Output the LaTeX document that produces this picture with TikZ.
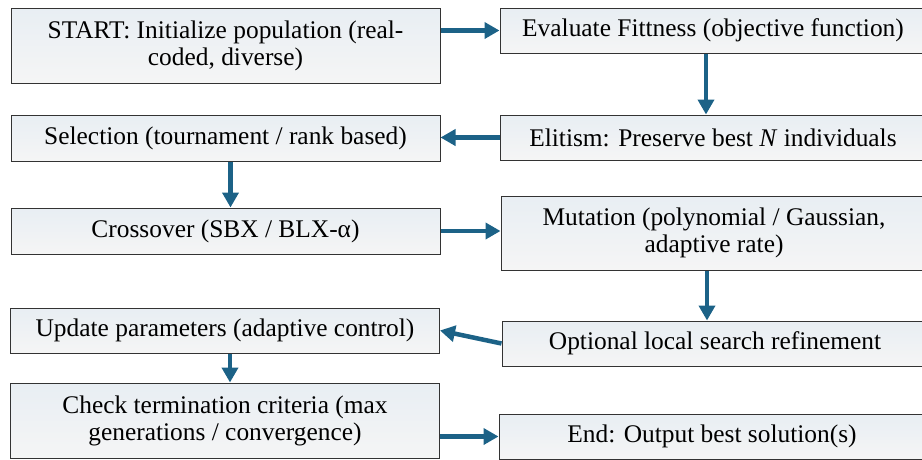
\documentclass[tikz,border=0pt]{standalone}
\usepackage{fontspec}
\setmainfont{Liberation Serif}
\usetikzlibrary{arrows.meta,shadows}
\definecolor{flowblue}{RGB}{28,98,135}
\definecolor{boxtop}{RGB}{232,238,243}
\definecolor{boxmid}{RGB}{211,211,212}
\definecolor{boxbot}{RGB}{245,245,245}
\tikzset{
    stage/.style={draw=black!80, line width=1pt, top color=boxtop, middle color=boxmid, bottom color=boxbot,
        drop shadow={shadow xshift=0.8pt, shadow yshift=-0.8pt, fill=black!60, opacity=1},
        align=center, inner sep=2pt, font=\fontsize{25.4}{27}\selectfont},
    flow/.style={draw=flowblue, line width=4.5pt, -{Triangle[length=15pt,width=16pt]}}
}
\begin{document}
\begin{tikzpicture}[x=1pt,y=-1pt]
    \useasboundingbox (0,0) rectangle (922,459);
    % left column
    \node[stage, minimum width=429pt, minimum height=75pt] (init) at (225.5,45.5) {START: Initialize population (real-\\coded, diverse)};
    \node[stage, minimum width=429pt, minimum height=46pt] (select) at (225.5,138) {Selection (tournament / rank based)};
    \node[stage, minimum width=429pt, minimum height=46pt] (cross) at (225.5,231) {Crossover (SBX / BLX-α)};
    \node[stage, minimum width=429pt, minimum height=45pt] (update) at (225,330.5) {Update parameters (adaptive control)};
    \node[stage, minimum width=429pt, minimum height=75pt] (check) at (225,420.5) {Check termination criteria (max\\generations / convergence)};
    % right column
    \node[stage, minimum width=426pt, minimum height=45pt] (evalfit) at (713,30.5) {Evaluate Fittness (objective function)};
    \node[stage, minimum width=426pt, minimum height=45pt] (elit) at (713,137.5) {Elitism: Preserve best \textit{N} individuals};
    \node[stage, minimum width=426pt, minimum height=74pt] (mutate) at (714,233) {Mutation (polynomial / Gaussian,\\adaptive rate)};
    \node[stage, minimum width=426pt, minimum height=45pt] (refine) at (715,343.5) {Optional local search refinement};
    \node[stage, minimum width=426pt, minimum height=45pt] (finish) at (712,436.5) {End: Output best solution(s)};

    \draw[flow] (init.east |- evalfit.west) -- (evalfit.west);
    \draw[flow] ([xshift=-7pt]evalfit.south) -- ([xshift=-7pt]evalfit.south |- elit.north);
    \draw[flow] (elit.west) -- (elit.west -| select.east);
    \draw[flow] ([xshift=5pt]select.south) -- ([xshift=5pt]select.south |- cross.north);
    \draw[flow] (cross.east) -- (cross.east -| mutate.west);
    \draw[flow] ([xshift=-7pt]mutate.south) -- ([xshift=-7pt]mutate.south |- refine.north);
    \draw[flow] (refine.west) -- (update.east);
    \draw[flow] ([xshift=5pt]update.south) -- ([xshift=5pt]update.south |- check.north);
    \draw[flow] (check.east |- finish.west) -- (finish.west);
\end{tikzpicture}
\end{document}
